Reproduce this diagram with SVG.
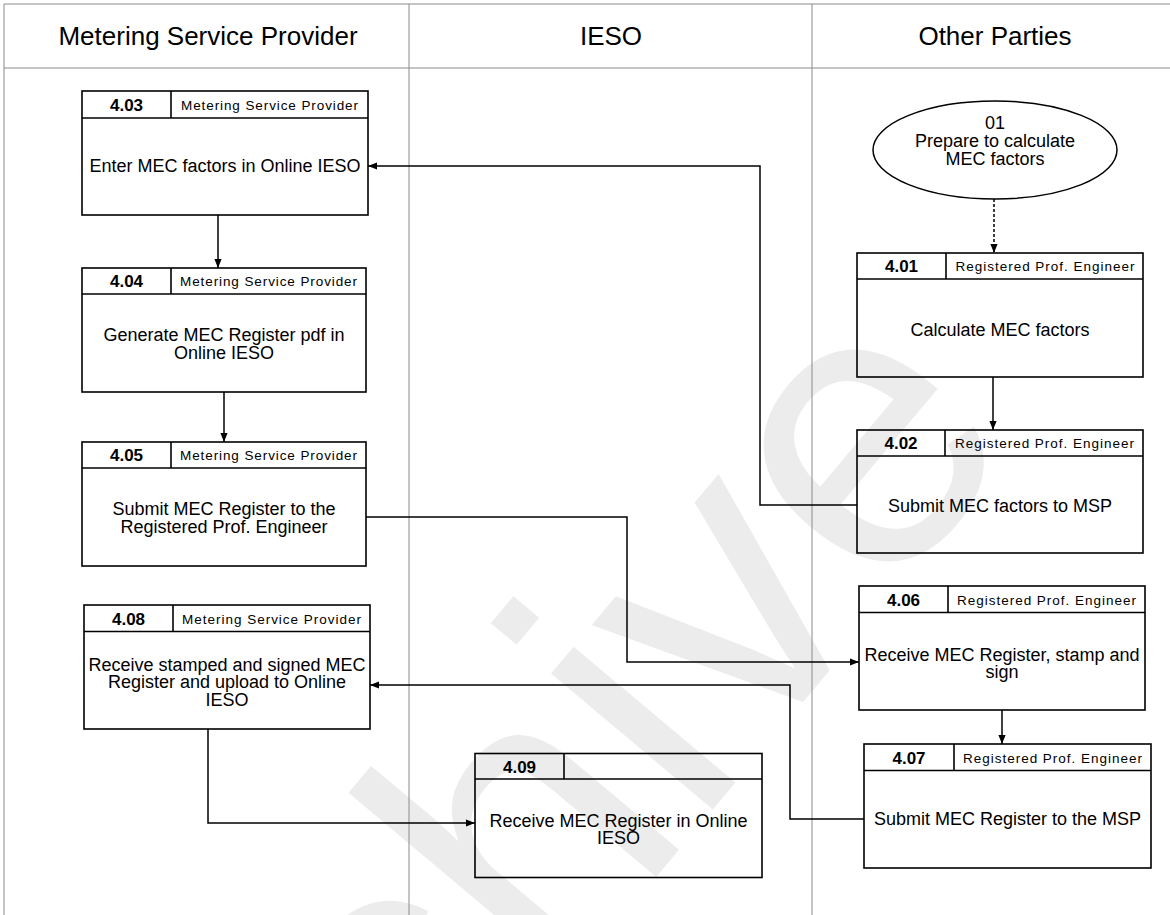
<svg xmlns="http://www.w3.org/2000/svg" width="1170" height="915" viewBox="0 0 1170 915">
  <style>
    .lane { stroke: #8a8a8a; stroke-width: 1; fill: none; }
    .hdr { font-family: "Liberation Sans", Arial, sans-serif; font-size: 26px; fill: #000; text-anchor: middle; }
    .box { fill: none; stroke: #000; stroke-width: 1.6; }
    .num { font-family: "Liberation Sans", Arial, sans-serif; font-size: 17px; font-weight: bold; fill: #000; text-anchor: middle; }
    .role { font-family: "Liberation Sans", Arial, sans-serif; font-size: 13.5px; fill: #000; text-anchor: middle; }
    .body { font-family: "Liberation Sans", Arial, sans-serif; font-size: 18px; fill: #000; text-anchor: middle; }
    .conn { fill: none; stroke: #000; stroke-width: 1.5; }
    .dash { stroke-dasharray: 3 2; }
    .wm { font-family: "Liberation Sans", Arial, sans-serif; font-size: 400px; fill: #ececec; }
  </style>
  <defs>
    <marker id="arr" viewBox="0 0 10 8" refX="10" refY="4" markerWidth="9" markerHeight="7.5" markerUnits="userSpaceOnUse" orient="auto">
      <path d="M0,0 L10,4 L0,8 z" fill="#000"/>
    </marker>
  </defs>
  <rect width="1170" height="915" fill="#fff"/>

  <text class="wm" transform="translate(167,1460) rotate(-50)">Archive</text>

  <g id="lanes">
    <line class="lane" x1="4" y1="4" x2="1170" y2="4" stroke-width="2"/>
    <line class="lane" x1="4" y1="4" x2="4" y2="915"/>
    <line class="lane" x1="4" y1="68" x2="1170" y2="68"/>
    <line class="lane" x1="409" y1="4" x2="409" y2="915"/>
    <line class="lane" x1="812" y1="4" x2="812" y2="915"/>
    <text class="hdr" x="208" y="45">Metering Service Provider</text>
    <text class="hdr" x="611" y="45">IESO</text>
    <text class="hdr" x="995" y="45">Other Parties</text>
  </g>

  <g id="connectors">
    <path class="conn dash" d="M994,199 L994,253" marker-end="url(#arr)"/>
    <path class="conn" d="M993,377 L993,430" marker-end="url(#arr)"/>
    <path class="conn" d="M857,505 L760,505 L760,166 L368,166" marker-end="url(#arr)"/>
    <path class="conn" d="M218,215 L218,268" marker-end="url(#arr)"/>
    <path class="conn" d="M224,392 L224,442" marker-end="url(#arr)"/>
    <path class="conn" d="M366,517 L627,517 L627,662 L859,662" marker-end="url(#arr)"/>
    <path class="conn" d="M1002,710 L1002,744" marker-end="url(#arr)"/>
    <path class="conn" d="M864,819 L790,819 L790,685 L370,685" marker-end="url(#arr)"/>
    <path class="conn" d="M208,729 L208,823 L475,823" marker-end="url(#arr)"/>
  </g>

  <g id="n01">
    <ellipse cx="995" cy="150" rx="122" ry="49" fill="none" stroke="#000" stroke-width="1.5"/>
    <text class="body" x="995" y="129">01</text>
    <text class="body" x="995" y="147">Prepare to calculate</text>
    <text class="body" x="995" y="165">MEC factors</text>
  </g>

  <g id="n403">
    <rect class="box" x="82" y="91" width="286" height="124"/>
    <line class="box" x1="82" y1="118" x2="368" y2="118"/>
    <line class="box" x1="171" y1="91" x2="171" y2="118"/>
    <text class="num" x="126.5" y="110.5">4.03</text>
    <text class="role" x="269.5" y="109.5" textLength="177" lengthAdjust="spacing">Metering Service Provider</text>
    <text class="body" x="225" y="172">Enter MEC factors in Online IESO</text>
  </g>

  <g id="n404">
    <rect class="box" x="82" y="268" width="284" height="124"/>
    <line class="box" x1="82" y1="294" x2="366" y2="294"/>
    <line class="box" x1="171" y1="268" x2="171" y2="294"/>
    <text class="num" x="126.5" y="287">4.04</text>
    <text class="role" x="268.5" y="286" textLength="177" lengthAdjust="spacing">Metering Service Provider</text>
    <text class="body" x="224" y="341">Generate MEC Register pdf in</text>
    <text class="body" x="224" y="359">Online IESO</text>
  </g>

  <g id="n405">
    <rect class="box" x="82" y="442" width="284" height="124"/>
    <line class="box" x1="82" y1="468" x2="366" y2="468"/>
    <line class="box" x1="171" y1="442" x2="171" y2="468"/>
    <text class="num" x="126.5" y="461">4.05</text>
    <text class="role" x="268.5" y="460" textLength="177" lengthAdjust="spacing">Metering Service Provider</text>
    <text class="body" x="224" y="515">Submit MEC Register to the</text>
    <text class="body" x="224" y="533">Registered Prof. Engineer</text>
  </g>

  <g id="n408">
    <rect class="box" x="84" y="605" width="286" height="124"/>
    <line class="box" x1="84" y1="631.5" x2="370" y2="631.5"/>
    <line class="box" x1="173" y1="605" x2="173" y2="631.5"/>
    <text class="num" x="128.5" y="624.5">4.08</text>
    <text class="role" x="271.5" y="623.5" textLength="179" lengthAdjust="spacing">Metering Service Provider</text>
    <text class="body" x="227" y="671">Receive stamped and signed MEC</text>
    <text class="body" x="227" y="688">Register and upload to Online</text>
    <text class="body" x="227" y="706">IESO</text>
  </g>

  <g id="n409">
    <rect class="box" x="475" y="753.5" width="287" height="124"/>
    <line class="box" x1="475" y1="779" x2="762" y2="779"/>
    <line class="box" x1="564" y1="753.5" x2="564" y2="779"/>
    <text class="num" x="519.5" y="772.5">4.09</text>
    <text class="body" x="618.5" y="827">Receive MEC Register in Online</text>
    <text class="body" x="618.5" y="844">IESO</text>
  </g>

  <g id="n401">
    <rect class="box" x="857" y="253" width="286" height="124"/>
    <line class="box" x1="857" y1="279" x2="1143" y2="279"/>
    <line class="box" x1="946" y1="253" x2="946" y2="279"/>
    <text class="num" x="901.5" y="272">4.01</text>
    <text class="role" x="1045" y="271" textLength="179" lengthAdjust="spacing">Registered Prof. Engineer</text>
    <text class="body" x="1000" y="336">Calculate MEC factors</text>
  </g>

  <g id="n402">
    <rect class="box" x="857" y="430" width="286" height="123"/>
    <line class="box" x1="857" y1="456" x2="1143" y2="456"/>
    <line class="box" x1="945" y1="430" x2="945" y2="456"/>
    <text class="num" x="901" y="449">4.02</text>
    <text class="role" x="1044.5" y="448" textLength="179" lengthAdjust="spacing">Registered Prof. Engineer</text>
    <text class="body" x="1000" y="512">Submit MEC factors to MSP</text>
  </g>

  <g id="n406">
    <rect class="box" x="859" y="586" width="286" height="124"/>
    <line class="box" x1="859" y1="612.5" x2="1145" y2="612.5"/>
    <line class="box" x1="948" y1="586" x2="948" y2="612.5"/>
    <text class="num" x="903.5" y="605.5">4.06</text>
    <text class="role" x="1046.5" y="604.5" textLength="179" lengthAdjust="spacing">Registered Prof. Engineer</text>
    <text class="body" x="1002" y="661">Receive MEC Register, stamp and</text>
    <text class="body" x="1002" y="678">sign</text>
  </g>

  <g id="n407">
    <rect class="box" x="864" y="744" width="287" height="124"/>
    <line class="box" x1="864" y1="770.5" x2="1151" y2="770.5"/>
    <line class="box" x1="954" y1="744" x2="954" y2="770.5"/>
    <text class="num" x="909" y="763.5">4.07</text>
    <text class="role" x="1052.5" y="762.5" textLength="179" lengthAdjust="spacing">Registered Prof. Engineer</text>
    <text class="body" x="1007.5" y="825">Submit MEC Register to the MSP</text>
  </g>
</svg>
